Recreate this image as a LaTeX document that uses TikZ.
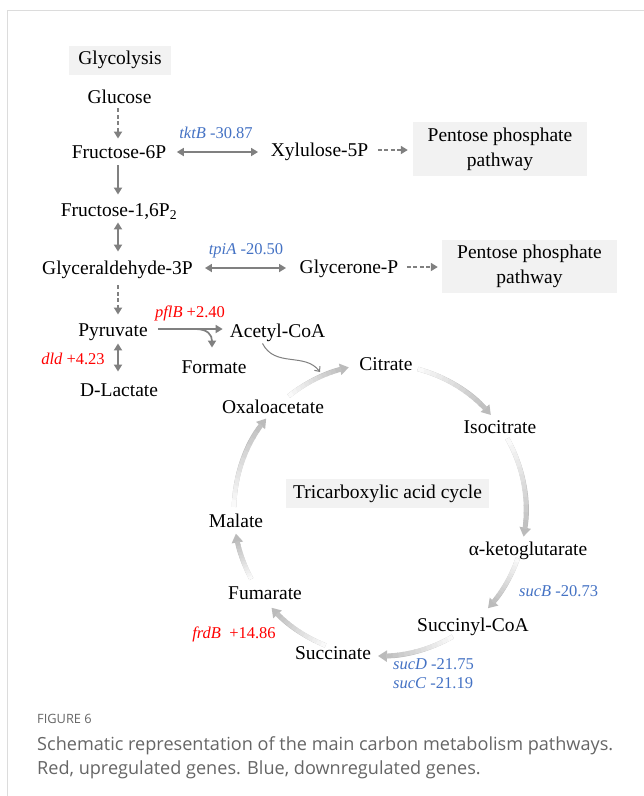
\documentclass[tikz,border=0pt]{standalone}
\usepackage{fontspec}
\setmainfont{Liberation Serif}
\newfontfamily\capfont{Open Sans}
\usetikzlibrary{arrows.meta}
\definecolor{dgray}{HTML}{808080}
\definecolor{blu}{HTML}{4472C4}
\definecolor{boxbg}{HTML}{F2F2F2}
\definecolor{cycdark}{HTML}{BBBBBB}
\definecolor{capgray}{HTML}{666666}
\definecolor{framegray}{HTML}{DCDCDC}
\newcommand\cycarrow[2]{%
  \draw[cyca] (C) ++(#1:146) arc[start angle=#1, end angle=#2, radius=146];
  \foreach \i in {0,...,11}{%
    \pgfmathsetmacro\sa{#1+(#2-#1-3.5)*\i/12}%
    \pgfmathsetmacro\ea{#1+(#2-#1-3.5)*(\i+1)/12+0.4}%
    \pgfmathsetmacro\pc{8+7.5*\i}%
    \draw[line width=4.5pt, draw=cycdark!\pc] (C) ++(\sa:146) arc[start angle=\sa, end angle=\ea, radius=146];
  }%
}
\begin{document}
\begin{tikzpicture}[x=1pt,y=-1pt,
  met/.style={font=\fontsize{19.5}{25}\selectfont, inner sep=1pt, text height=14.5pt, text depth=2pt},
  gene/.style={font=\fontsize{16.5}{20}\selectfont, inner sep=0pt},
  up/.style={gene, text=red},
  down/.style={gene, text=blu},
  graybox/.style={font=\fontsize{19.5}{25}\selectfont, fill=boxbg, align=center, inner sep=0pt},
  flow/.style={draw=dgray, line width=1.7pt, -{Triangle[width=8pt,length=7pt]}},
  dflow/.style={flow, dash pattern=on 4pt off 2.5pt},
  bflow/.style={flow, {Triangle[width=8pt,length=7pt]}-{Triangle[width=8pt,length=7pt]}},
  thinflow/.style={draw=dgray, line width=1pt, -{Straight Barb[width=7pt,length=4pt]}},
  cyca/.style={draw=cycdark, line width=4.5pt, -{Triangle[width=11pt,length=9pt]}},
]
\useasboundingbox (0,0) rectangle (644,796);
\fill[white] (0,0) rectangle (644,796);
\draw[framegray, line width=1pt] (7,796) -- (7,10) -- (644,10);

\coordinate (ax) at (118,0);
\coordinate (C) at (380,510);

% boxes
\node[graybox, minimum width=102, minimum height=29] (glyco) at (120,60) {Glycolysis};
\node[graybox, minimum width=174, minimum height=54] (ppp1) at (500,149) {Pentose phosphate\\pathway};
\node[graybox, minimum width=175, minimum height=53] (ppp2) at (529.5,266.5) {Pentose phosphate\\pathway};
\node[graybox, minimum width=203, minimum height=29] (tca) at (387.5,493.5) {Tricarboxylic acid cycle};

% metabolites
\node[met] (glc) at (119.5,97) {Glucose};
\node[met] (f6p) at (119,152) {Fructose-6P};
\node[met] (xyl) at (319.5,150) {Xylulose-5P};
\node[met] (f16) at (119,210) {Fructose-1,6P\textsubscript{2}};
\node[met] (g3p) at (117.5,268) {Glyceraldehyde-3P};
\node[met] (gly) at (349,267) {Glycerone-P};
\node[met] (pyr) at (113,330) {Pyruvate};
\node[met] (acc) at (277.5,331) {Acetyl-CoA};
\node[met] (for) at (214,367) {Formate};
\node[met] (lac) at (119,390) {D-Lactate};
\node[met] (cit) at (386,364) {Citrate};
\node[met] (oaa) at (273,407) {Oxaloacetate};
\node[met] (ico) at (500,427) {Isocitrate};
\node[met] (mal) at (236,521) {Malate};
\node[met] (akg) at (528,549) {α-ketoglutarate};
\node[met] (fum) at (265,593) {Fumarate};
\node[met] (sca) at (473,625) {Succinyl-CoA};
\node[met] (suc) at (333,653) {Succinate};

% gene labels
\node[down] (tkt) at (216,133) {\textit{tktB} -30.87};
\node[down] (tpi) at (246,251) {\textit{tpiA} -20.50};
\node[up] (pfl) at (190,313) {\textit{pflB} +2.40};
\node[up] (dld) at (73,359) {\textit{dld} +4.23};
\node[down, anchor=west] (sucb) at (519,591) {\textit{sucB} -20.73};
\node[up] (frd) at (234,634) {\textit{frdB}\ \ +14.86};
\node[down, anchor=west] (sucd) at (393,664) {\textit{sucD} -21.75};
\node[down, anchor=west] (succ) at (393,683) {\textit{sucC} -21.19};

% glycolysis connectors
\draw[dflow, shorten <=2pt, shorten >=4pt] (glc.south -| ax) -- (f6p.north -| ax);
\draw[flow, shorten <=4pt, shorten >=6pt] (f6p.south -| ax) -- (f16.north -| ax);
\draw[bflow, shorten <=3pt, shorten >=7pt] (f16.south -| ax) -- (g3p.north -| ax);
\draw[dflow, shorten <=8pt, shorten >=6pt] (g3p.south -| ax) -- (pyr.north -| ax);
\draw[bflow, shorten <=4pt, shorten >=9pt] (pyr.south -| ax) -- (lac.north -| ax);

\draw[bflow, shorten <=9.5pt, shorten >=11.5pt] (f6p.east) -- (f6p.east -| xyl.west);
\draw[dflow, shorten <=8.5pt, shorten >=5pt] (xyl.east) -- (xyl.east -| ppp1.west);
\draw[bflow, shorten <=11pt, shorten >=12.5pt] (g3p.east) -- (g3p.east -| gly.west);
\draw[dflow, shorten <=7.5pt, shorten >=4pt] (gly.east) -- (gly.east -| ppp2.west);
\draw[flow, shorten <=9pt, shorten >=6pt] ([yshift=1pt]pyr.east) -- ([yshift=1pt]pyr.east -| acc.west);

\coordinate (fb) at (195,329);
\draw[flow] (fb) .. controls (208,329) and (212,335) .. ([xshift=-2pt,yshift=10pt]for.north);

\coordinate (cin) at (320,372);
\draw[thinflow] ([xshift=-15pt,yshift=-3pt]acc.south) .. controls (275,368) and (305,352) .. (cin);

% TCA cycle
\cycarrow{231.3}{257.7}
\cycarrow{285}{319.4}
\cycarrow{330.7}{370.5}
\cycarrow{19.3}{42.3}
\cycarrow{60.1}{90.8}
\cycarrow{111.9}{138}
\cycarrow{151.8}{170.7}
\cycarrow{181.2}{218.8}

% caption
\node[anchor=base west, inner sep=0pt, text=capgray, font=\capfont\fontsize{12.8}{15}\selectfont] (fig) at (37,723) {FIGURE 6};
\node[anchor=base west, inner sep=0pt, text=capgray, font=\capfont\fontsize{18.1}{24}\selectfont] (cap1) at (37,750) {Schematic representation of the main carbon metabolism pathways.};
\node[anchor=base west, inner sep=0pt, text=capgray, font=\capfont\fontsize{18.1}{24}\selectfont] (cap2) at (37,774) {Red, upregulated genes. Blue, downregulated genes.};
\end{tikzpicture}
\end{document}
